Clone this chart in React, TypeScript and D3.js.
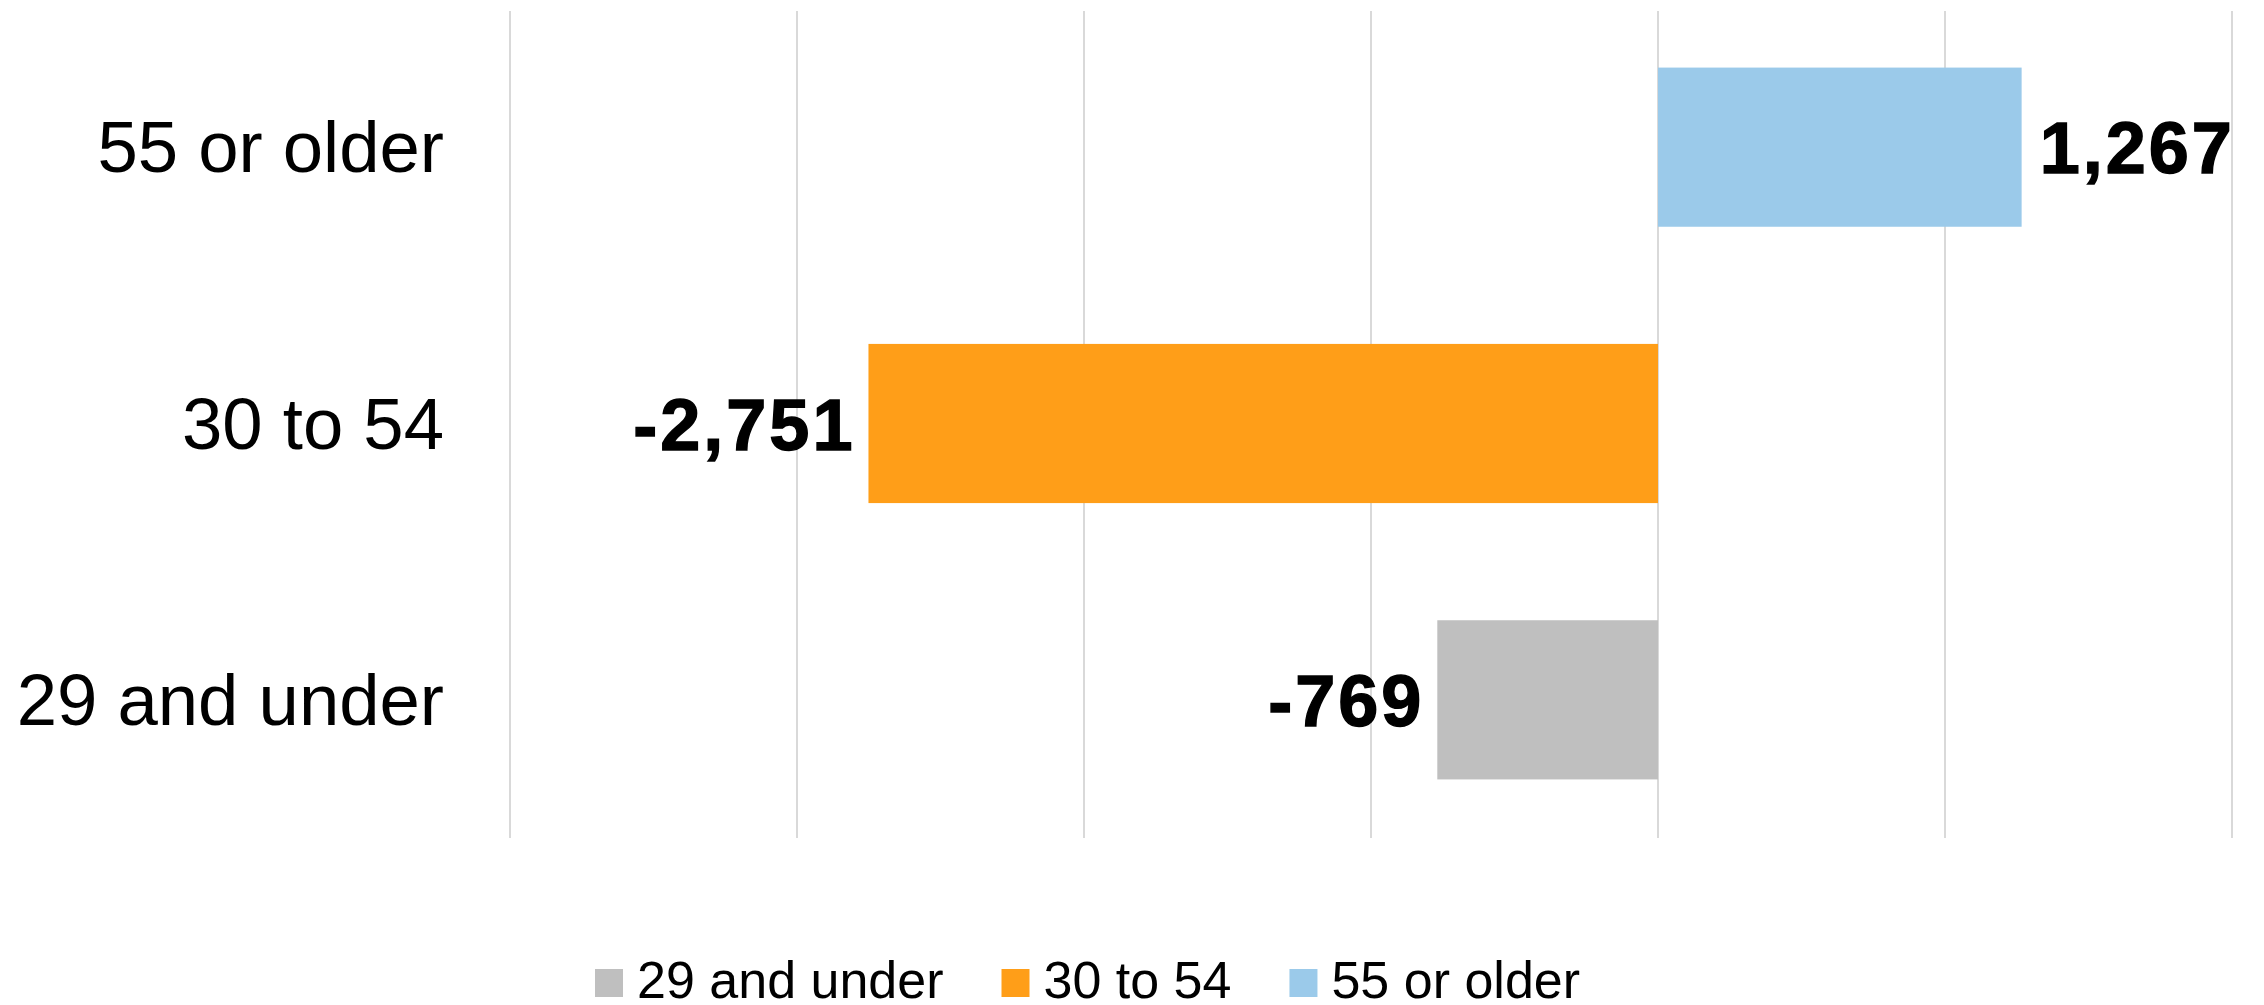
import React, { useEffect, useRef } from "react";
import * as d3 from "d3";

const categories = ["55 or older", "30 to 54", "29 and under"];
const values = [1267, -2751, -769];
const colors = ["#9BCAEA", "#FF9E18", "#BFBFBF"];
const legendLabels = ["29 and under", "30 to 54", "55 or older"];
const legendColors = ["#BFBFBF", "#FF9E18", "#9BCAEA"];
const gridTicks = [-4000, -3000, -2000, -1000, 0, 1000, 2000];

const W = 2264;
const H = 1005;

export default function App() {
  const ref = useRef<SVGSVGElement | null>(null);

  useEffect(() => {
    const svg = d3.select(ref.current);
    svg.selectAll("*").remove();

    const x = d3.scaleLinear().domain([-4000, 2000]).range([510, 2232]);
    const y = d3
      .scaleBand<string>()
      .domain(categories)
      .range([9, 838])
      .paddingInner(0.424)
      .paddingOuter(0.212);

    // gridlines
    svg
      .append("g")
      .selectAll("line")
      .data(gridTicks)
      .join("line")
      .attr("x1", (d) => x(d))
      .attr("x2", (d) => x(d))
      .attr("y1", 11)
      .attr("y2", 838)
      .attr("stroke", "#d9d9d9")
      .attr("stroke-width", 2);

    // bars
    svg
      .append("g")
      .selectAll("rect")
      .data(categories)
      .join("rect")
      .attr("x", (_, i) => Math.min(x(0), x(values[i])))
      .attr("width", (_, i) => Math.abs(x(values[i]) - x(0)))
      .attr("y", (d) => y(d)!)
      .attr("height", y.bandwidth())
      .attr("fill", (_, i) => colors[i]);

    // category labels
    svg
      .append("g")
      .selectAll("text")
      .data(categories)
      .join("text")
      .attr("x", 444)
      .attr("y", (d) => y(d)! + y.bandwidth() / 2 + 25)
      .attr("text-anchor", "end")
      .attr("font-family", "'Liberation Sans', Arial, sans-serif")
      .attr("font-size", 72.5)
      .attr("fill", "#000")
      .text((d) => d);

    // value labels
    const fmt = (v: number) => d3.format(",")(v).replace("\u2212", "-");
    svg
      .append("g")
      .selectAll("text")
      .data(categories)
      .join("text")
      .attr("x", (_, i) => (values[i] >= 0 ? x(values[i]) + 18 : x(values[i]) - 13))
      .attr("y", (d) => y(d)! + y.bandwidth() / 2 + 26)
      .attr("text-anchor", (_, i) => (values[i] >= 0 ? "start" : "end"))
      .attr("font-family", "'Liberation Sans', Arial, sans-serif")
      .attr("font-weight", "bold")
      .attr("font-size", 72)
      .attr("letter-spacing", 3)
      .attr("stroke", "#000")
      .attr("stroke-width", 1.4)
      .attr("fill", "#000")
      .text((_, i) => fmt(values[i]));

    // legend
    const lg = svg.append("g");
    let cx = 595;
    legendLabels.forEach((lab, i) => {
      lg.append("rect")
        .attr("x", cx)
        .attr("y", 969)
        .attr("width", 28)
        .attr("height", 28)
        .attr("fill", legendColors[i]);
      const t = lg
        .append("text")
        .attr("x", cx + 42)
        .attr("y", 998)
        .attr("font-family", "'Liberation Sans', Arial, sans-serif")
        .attr("font-size", 52)
        .attr("fill", "#000")
        .text(lab);
      const w = (t.node() as SVGTextElement).getComputedTextLength();
      cx = cx + 42 + w + 58;
    });
  }, []);

  return (
    <div style={{ position: "absolute", left: 0, top: 0 }}>
      <svg ref={ref} width={W} height={H} style={{ display: "block", background: "#fff" }} />
    </div>
  );
}
